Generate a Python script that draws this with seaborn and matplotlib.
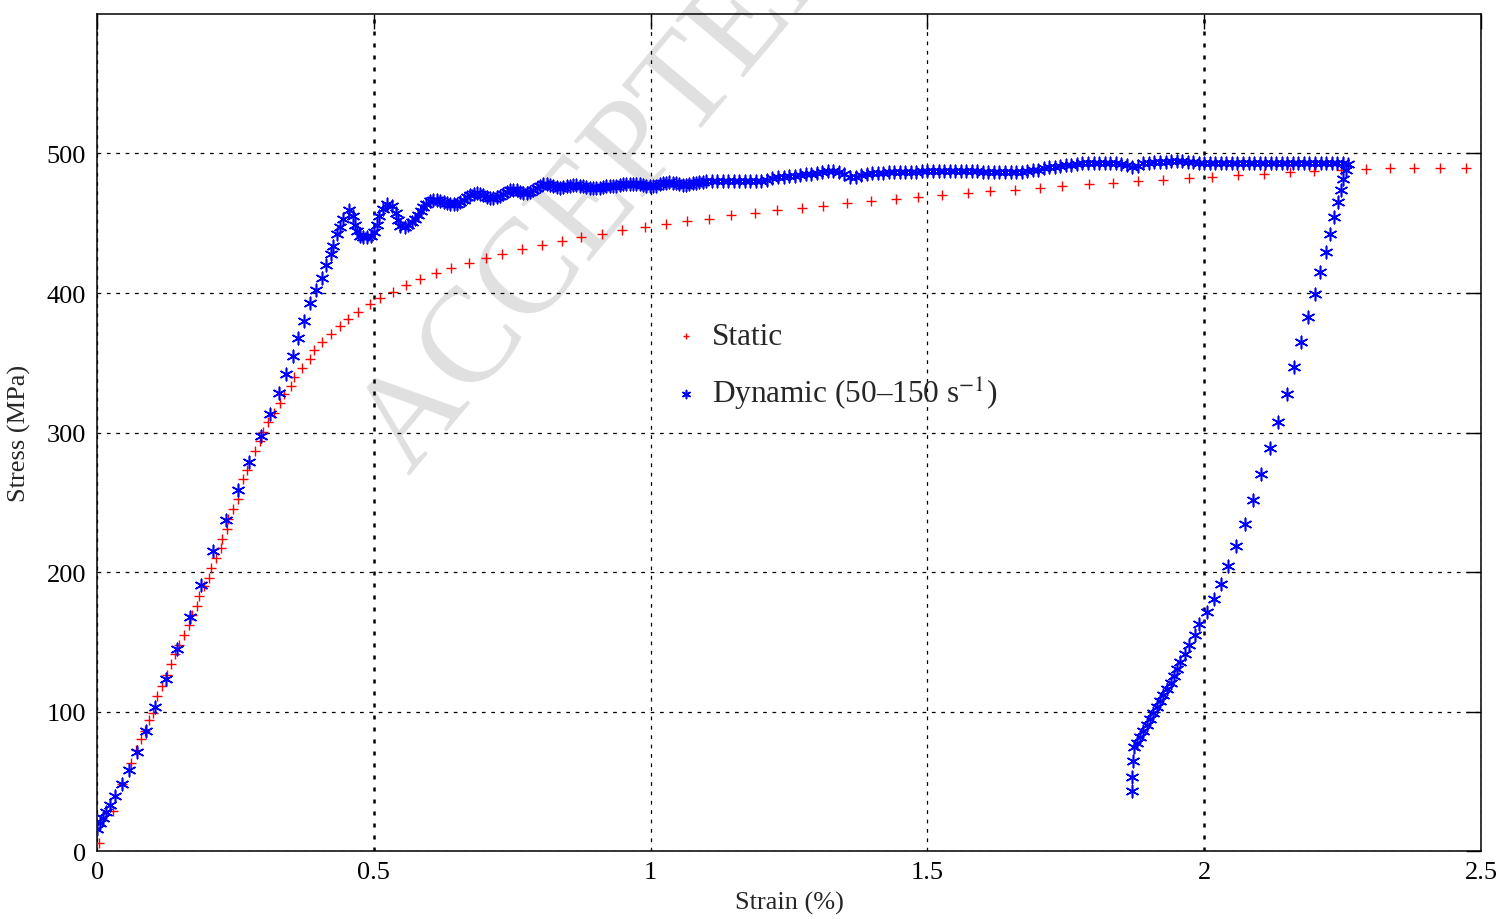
import matplotlib
matplotlib.use("Agg")
import matplotlib.pyplot as plt
import seaborn as sns


# static test: strain (%) and stress (MPa)
static_strain = [
    0.004, 0.028, 0.045, 0.061, 0.070, 0.080, 0.087, 0.094, 0.101, 0.108,
    0.117, 0.126, 0.134, 0.141, 0.148, 0.157, 0.166, 0.171, 0.180, 0.184,
    0.193, 0.202, 0.205, 0.214, 0.223, 0.225, 0.234, 0.237, 0.245, 0.254,
    0.264, 0.271, 0.285, 0.294, 0.300, 0.309, 0.320, 0.331, 0.337, 0.350,
    0.356, 0.370, 0.384, 0.391, 0.407, 0.423, 0.439, 0.454, 0.472, 0.493,
    0.511, 0.535, 0.558, 0.584, 0.612, 0.640, 0.671, 0.703, 0.732, 0.767,
    0.803, 0.840, 0.874, 0.912, 0.948, 0.989, 1.027, 1.065, 1.106, 1.146,
    1.189, 1.229, 1.273, 1.312, 1.354, 1.398, 1.443, 1.482, 1.526, 1.573,
    1.613, 1.658, 1.703, 1.743, 1.791, 1.836, 1.880, 1.926, 1.972, 2.014,
    2.061, 2.108, 2.155, 2.198, 2.247, 2.292, 2.336, 2.378, 2.425, 2.473,
]
static_stress = [
    6, 29, 48, 63, 72.5, 80.5, 86, 94, 99, 111,
    118.5, 126.5, 134, 141, 147.5, 155, 162, 169.5, 175.5, 182.5,
    190, 196, 203, 210, 217, 224, 231, 238, 245, 252.5,
    266.7, 273, 287, 294, 300.7, 307.8, 313.8, 321, 327.4, 333.6,
    340, 346.4, 353, 359, 364.8, 370.5, 376.2, 381.3, 386.5, 392,
    396.5, 400.8, 405.6, 410, 414, 418, 421.5, 425.2, 428.2, 431.3,
    434.2, 437.3, 440.1, 442.5, 445, 447.3, 449.2, 451.6, 453.3, 455.7,
    457.3, 459.2, 460.9, 462.3, 464.5, 465.9, 467.6, 468.8, 470.4, 471.9,
    472.8, 474, 475.2, 476.4, 478.3, 479, 480.1, 481.1, 482.1, 483,
    484.6, 485.5, 486.6, 487.3, 488.3, 489, 489.5, 489.5, 489.5, 489.5,
]

# dynamic test, loading branch
dyn_load_strain = [
    0.0005, 0.005, 0.010, 0.016, 0.0235, 0.033, 0.045, 0.057, 0.072, 0.088,
    0.104, 0.125, 0.145, 0.167, 0.188, 0.210, 0.233, 0.254, 0.275, 0.296,
    0.313, 0.329, 0.341, 0.354, 0.3625, 0.374, 0.385, 0.396, 0.406, 0.414,
    0.422, 0.426, 0.4335, 0.438, 0.445, 0.455,
]
dyn_load_stress = [
    16, 20, 23.5, 28, 33, 39.5, 48, 58, 71, 86,
    103.5, 123.5, 145, 168, 191, 215, 237.5, 259, 279, 297.6,
    313, 328, 341.7, 355, 368, 380, 392.5, 402.5, 411, 420,
    428, 434, 442, 447, 453, 459.7,
]

# dynamic test, yield oscillations and plateau
dyn_plateau_strain = [
    0.463, 0.4655, 0.470, 0.475, 0.481, 0.487, 0.494, 0.500, 0.505, 0.509,
    0.516, 0.523, 0.532, 0.5395, 0.543, 0.547, 0.556, 0.562, 0.568, 0.574,
    0.580, 0.585, 0.589, 0.595, 0.6015, 0.607, 0.6136, 0.620, 0.626, 0.632,
    0.638, 0.644, 0.650, 0.656, 0.662, 0.668, 0.674, 0.680, 0.686, 0.692,
    0.698, 0.704, 0.710, 0.716, 0.722, 0.728, 0.734, 0.740, 0.746, 0.752,
    0.758, 0.764, 0.770, 0.776, 0.782, 0.788, 0.794, 0.800, 0.806, 0.812,
    0.818, 0.824, 0.830, 0.836, 0.842, 0.848, 0.854, 0.860, 0.866, 0.872,
    0.878, 0.884, 0.890, 0.896, 0.902, 0.908, 0.914, 0.920, 0.926, 0.932,
    0.938, 0.944, 0.950, 0.956, 0.962, 0.968, 0.974, 0.980, 0.986, 0.992,
    0.998, 1.004, 1.010, 1.016, 1.022, 1.028, 1.034, 1.040, 1.046, 1.052,
    1.058, 1.064, 1.070, 1.076, 1.082, 1.088, 1.094, 1.100, 1.110, 1.120,
    1.130, 1.140, 1.150, 1.160, 1.170, 1.180, 1.190, 1.200, 1.210, 1.220,
    1.230, 1.240, 1.250, 1.260, 1.270, 1.280, 1.290, 1.300, 1.310, 1.320,
    1.330, 1.340, 1.350, 1.360, 1.370, 1.380, 1.390, 1.400, 1.410, 1.420,
    1.430, 1.440, 1.450, 1.460, 1.470, 1.480, 1.490, 1.500, 1.510, 1.520,
    1.530, 1.540, 1.550, 1.560, 1.570, 1.580, 1.590, 1.600, 1.610, 1.620,
    1.630, 1.640, 1.650, 1.660, 1.670, 1.680, 1.690, 1.700, 1.710, 1.720,
    1.730, 1.740, 1.750, 1.760, 1.770, 1.780, 1.790, 1.800, 1.810, 1.820,
    1.830, 1.840, 1.850, 1.860, 1.870, 1.880, 1.890, 1.900, 1.910, 1.920,
    1.930, 1.940, 1.950, 1.960, 1.970, 1.980, 1.990, 2.000, 2.010, 2.020,
    2.030, 2.040, 2.050, 2.060, 2.070, 2.080, 2.090, 2.100, 2.110, 2.120,
    2.130, 2.140, 2.150, 2.160, 2.170, 2.180, 2.190, 2.200, 2.210, 2.220,
    2.230, 2.240, 2.250, 2.260,
]
dyn_plateau_stress = [
    455, 448.5, 444.4, 440.6, 440, 440, 441, 443.7, 448.5, 455,
    460.4, 463.5, 462.3, 457.6, 452, 448, 447.3, 449, 450.9, 453,
    455.7, 459, 461.6, 464, 466, 467, 466.9, 466, 465, 464.5,
    464, 463.5, 464, 465.5, 467, 468.5, 470, 471, 471.6, 471,
    470, 469, 468, 468, 468.5, 469.5, 471, 472.5, 473.5, 474,
    473.5, 472.5, 471.5, 471.5, 472.5, 474, 475.5, 477, 478, 478,
    477.5, 476.5, 476, 475.5, 476, 476.5, 477, 477.5, 477.5, 477,
    476.5, 476, 475.5, 475.5, 475, 475.5, 476, 476.5, 477, 477,
    476.5, 477.5, 478, 478, 478, 478, 478, 478, 477.5, 477,
    476.5, 476.5, 477, 478, 478.5, 479, 479.5, 479, 478.5, 478,
    477.5, 477.5, 478, 478.5, 479, 479.5, 479.5, 480, 480, 480,
    480, 480, 480, 480, 480, 480, 480, 480, 481, 482.5,
    483, 483.5, 484, 484, 484.5, 485, 485.5, 486, 486.5, 487.5,
    487.5, 486.5, 485, 483.5, 483.5, 484.5, 485.5, 486, 486, 486,
    486.5, 486.5, 487, 487, 487, 487, 487.5, 487.5, 487.5, 487.5,
    487.5, 487.5, 487.5, 487.5, 487.5, 487.5, 487.5, 487, 487, 487,
    487, 487, 487, 486.5, 487, 487.5, 488, 488.5, 489.5, 490,
    490.5, 491, 491.5, 492, 492.5, 493, 493, 493, 493.5, 493.5,
    493.5, 493, 492.5, 491.5, 490.5, 491, 493, 493.5, 494, 494,
    494, 494.5, 494.5, 494.5, 494, 494, 493.5, 493, 493, 493,
    493, 493, 493, 493, 493, 493, 493.5, 493.5, 493.5, 493.5,
    493.5, 493.5, 493.5, 493.5, 493.5, 493.5, 493.5, 493.5, 493.5, 493,
    493, 493, 493, 492.5,
]

# dynamic test, unloading branch
dyn_unload_strain = [
    2.2556, 2.251, 2.2466, 2.241, 2.2345, 2.227, 2.219, 2.2098, 2.1995, 2.188,
    2.1755, 2.1628, 2.149, 2.134, 2.118, 2.103, 2.088, 2.073, 2.058, 2.0436,
    2.031, 2.017, 2.0045, 1.991, 1.983, 1.973, 1.965, 1.957, 1.951, 1.945,
    1.939, 1.933, 1.926, 1.920, 1.914, 1.908, 1.902, 1.896, 1.890, 1.884,
    1.878, 1.873, 1.871, 1.870, 1.869,
]
dyn_unload_stress = [
    488.3, 481.4, 474, 465.2, 454.5, 442.5, 429.4, 415, 399.6, 382.5,
    365, 346.7, 327.4, 307.8, 288.8, 270.2, 251.8, 234.6, 218.9, 204.6,
    191.7, 180.8, 171, 162.4, 154.5, 147.6, 141.1, 135.7, 130.2, 125.2,
    120.7, 116.4, 111.8, 107.5, 103.5, 99.2, 94.9, 90.6, 86, 81.8,
    77.7, 74.6, 64.6, 53.4, 43.1,
]

dyn_strain = dyn_load_strain + dyn_plateau_strain + dyn_unload_strain
dyn_stress = dyn_load_stress + dyn_plateau_stress + dyn_unload_stress

x_ticks = [0, 0.5, 1, 1.5, 2, 2.5]
x_tick_labels = ["0", "0.5", "1", "1.5", "2", "2.5"]
y_ticks = [0, 100, 200, 300, 400, 500]

sns.set_theme(style="white")
plt.rcParams["font.family"] = ["Liberation Serif", "DejaVu Serif"]
plt.rcParams["mathtext.fontset"] = "stix"

fig = plt.figure(figsize=(15.05, 9.2), dpi=100)
ax = fig.add_axes([0.0645, 0.0739, 0.9196, 0.9098])

# watermark
ax.text(
    0.272, 0.482, "ACCEPTED MANUSCRIPT",
    transform=fig.transFigure, rotation=50, rotation_mode="anchor",
    ha="left", va="baseline", fontsize=97, color="#e0e0e0",
    zorder=0, clip_on=False
)

sns.scatterplot(
    x=static_strain, y=static_stress, ax=ax,
    marker="+", color="red", s=60, linewidth=1.0,
    label="Static", zorder=3
)
sns.scatterplot(
    x=dyn_strain, y=dyn_stress, ax=ax,
    marker=(6, 2, 0), color="blue", s=80, linewidth=1.15,
    label="Dynamic (50\u2013150 s$^{\u22121}$)", zorder=4
)

ax.set_xlim(0, 2.5)
ax.set_ylim(0, 600)
ax.set_xticks(x_ticks)
ax.set_xticklabels(x_tick_labels)
ax.set_yticks(y_ticks)

ax.set_axisbelow(True)
ax.grid(True, color="black", linestyle=(0, (3, 4.5)), linewidth=0.9)
for i in (1, 4):
    gl = ax.get_xgridlines()[i]
    gl.set_linewidth(1.8)
    gl.set_linestyle((0, (1.6, 3.2)))

ax.tick_params(
    direction="in", length=11, width=1.0, top=True, right=True,
    labelsize=19, colors="black"
)
ax.tick_params(axis="x", pad=7)
ax.tick_params(axis="y", pad=8)
for sp in ax.spines.values():
    sp.set_color("black")
    sp.set_linewidth(1.1)

ax.set_xlabel("Strain (%)", fontsize=19, labelpad=6)
ax.set_ylabel("Stress (MPa)", fontsize=19, labelpad=11)

ax.legend(
    loc="upper left", bbox_to_anchor=(0.414, 0.632),
    frameon=False, fontsize=22.5, markerscale=0.65,
    handlelength=1.0, handletextpad=0.35, labelspacing=0.75,
    borderpad=0, borderaxespad=0
)

fig.savefig("out.png", dpi=100)
